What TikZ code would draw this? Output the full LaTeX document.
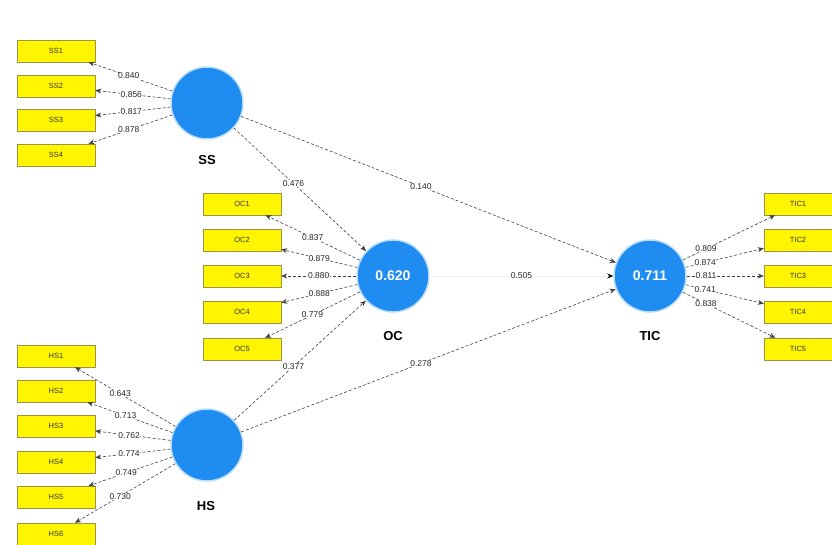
\documentclass[tikz,border=0pt]{standalone}
\usepackage{fontspec}
\setmainfont{Liberation Sans}
\usetikzlibrary{arrows.meta}
\definecolor{lvblue}{RGB}{30,140,240}
\definecolor{indyellow}{RGB}{255,245,0}
\begin{document}
\begin{tikzpicture}[x=1pt,y=-1pt,
  lv/.style={circle,fill=lvblue,draw=lvblue!30,line width=1.5pt,minimum size=72pt,inner sep=0pt,text=white,font=\bfseries\fontsize{14}{14}\selectfont},
  ind/.style={rectangle,fill=indyellow,draw=yellow!55!black,line width=0.4pt,minimum width=78pt,minimum height=22pt,inner sep=0pt,text=black!80,font=\fontsize{7.5}{7.5}\selectfont},
  lvname/.style={font=\bfseries\fontsize{13}{13}\selectfont},
  con/.style={densely dashed,draw=black!75,line width=0.6pt,-{Stealth[length=6pt,width=5pt]}},
  faintcon/.style={draw=black!6,line width=0.6pt,-{Stealth[length=6pt,width=5pt,color=black]}},
  val/.style={fill=white,inner sep=0.5pt,text=black!85,font=\fontsize{8.5}{8.5}\selectfont},
]
\useasboundingbox (0,0) rectangle (832,545);

% latent variables
\node[lv] (ss) at (207,103) {};
\node[lv] (oc) at (393,276) {0.620};
\node[lv] (hs) at (207,445) {};
\node[lv] (tic) at (650,276) {0.711};

\node[lvname] (ssname) at (207,160) {SS};
\node[lvname] (ocname) at (393,336) {OC};
\node[lvname] (hsname) at (206,506) {HS};
\node[lvname] (ticname) at (650,336) {TIC};

% indicators SS
\foreach \i/\y/\v in {1/51/0.840,2/86/0.856,3/120/0.817,4/155/0.878}{
  \node[ind] (ss\i) at (56,\y) {SS\i};
  \draw[con] (ss) -- node[val,pos=0.52] {\v} (ss\i);
}
% indicators OC
\foreach \i/\y/\v in {1/204/0.837,2/240/0.879,3/276/0.880,4/312/0.888,5/349/0.779}{
  \node[ind] (oc\i) at (242,\y) {OC\i};
  \draw[con] (oc) -- node[val,pos=0.5] {\v} (oc\i);
}
% indicators HS
\foreach \i/\y/\v in {1/356/0.643,2/391/0.713,3/426/0.762,4/462/0.774,5/497/0.749,6/534/0.730}{
  \node[ind] (hs\i) at (56,\y) {HS\i};
  \draw[con] (hs) -- node[val,pos=0.55] {\v} (hs\i);
}
% indicators TIC
\foreach \i/\y/\v in {1/204/0.809,2/240/0.874,3/276/0.811,4/312/0.741,5/349/0.838}{
  \node[ind,minimum width=68pt] (tic\i) at (798,\y) {TIC\i};
  \draw[con] (tic) -- node[val,pos=0.25] {\v} (tic\i);
}

% structural paths
\draw[con] (ss) -- node[val,pos=0.45] {0.476} (oc);
\draw[con] (ss) -- node[val,pos=0.48] {0.140} (tic);
\draw[con] (hs) -- node[val,pos=0.45] {0.377} (oc);
\draw[con] (hs) -- node[val,pos=0.48] {0.278} (tic);
\draw[faintcon] (oc) -- node[val,pos=0.5] {0.505} (tic);
\end{tikzpicture}
\end{document}
